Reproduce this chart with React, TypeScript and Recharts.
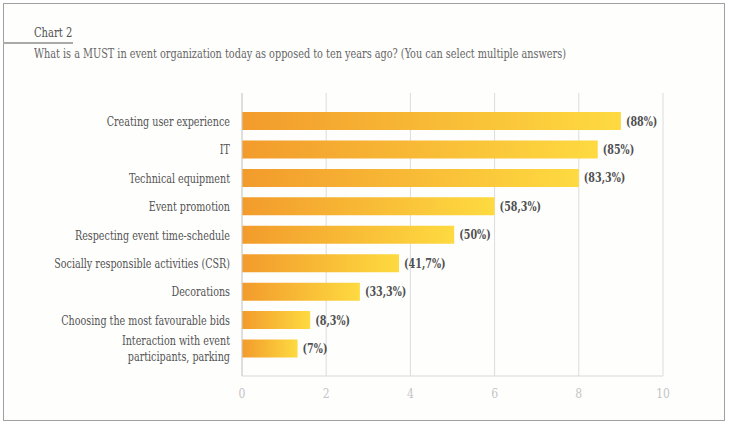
import { BarChart, Bar, XAxis, YAxis, CartesianGrid, LabelList } from 'recharts';

const categories = [
  'Creating user experience',
  'IT',
  'Technical equipment',
  'Event promotion',
  'Respecting event time-schedule',
  'Socially responsible activities (CSR)',
  'Decorations',
  'Choosing the most favourable bids',
  'Interaction with event\nparticipants, parking',
];
const values = [9.0, 8.45, 8.0, 6.0, 5.04, 3.73, 2.8, 1.62, 1.32];
const valueLabels = ['(88%)', '(85%)', '(83,3%)', '(58,3%)', '(50%)', '(41,7%)', '(33,3%)', '(8,3%)', '(7%)'];
const xTicks = [0, 2, 4, 6, 8, 10];

const data = categories.map((name, i) => ({ name, value: values[i], label: valueLabels[i] }));

const FONT = '"DejaVu Serif Condensed", "DejaVu Serif", serif';

function CategoryTick({ x, y, payload }: any) {
  const lines = String(payload.value).split('\n');
  const start = -((lines.length - 1) * 16) / 2;
  return (
    <g transform={`translate(${x - 4},${y}) scale(0.82,1)`}>
      {lines.map((line, i) => (
        <text key={i} x={0} y={start + i * 16} dy="0.35em" textAnchor="end" fill="#555" fontSize={13} fontFamily={FONT}>
          {line}
        </text>
      ))}
    </g>
  );
}

function ValueLabel({ x, y, width, height, value }: any) {
  return (
    <g transform={`translate(${x + width + 5},${y + height / 2}) scale(0.82,1)`}>
      <text x={0} y={0} dy="0.35em" fill="#505050" fontSize={13} fontWeight="bold" fontFamily={FONT}>
        {value}
      </text>
    </g>
  );
}

export default function App() {
  return (
    <div style={{ position: 'absolute', left: 0, top: 0, width: 730, height: 425, background: '#fff' }}>
      <div
        style={{
          position: 'absolute',
          left: 3,
          top: 3,
          width: 720,
          height: 416,
          border: '1.5px solid #a0a0a0',
          background: '#fefefd',
        }}
      />
      <div style={{ position: 'absolute', left: 3, top: 42, width: 70, height: 1.5, background: '#aaa' }} />
      <div
        style={{
          position: 'absolute',
          left: 34,
          top: 24,
          fontFamily: FONT,
          fontSize: 13.5,
          color: '#505050',
          whiteSpace: 'nowrap',
          transform: 'scaleX(0.82)',
          transformOrigin: 'left',
        }}
      >
        Chart 2
      </div>
      <div
        style={{
          position: 'absolute',
          left: 34,
          top: 46,
          fontFamily: FONT,
          fontSize: 13,
          color: '#666',
          whiteSpace: 'nowrap',
          transform: 'scaleX(0.83)',
          transformOrigin: 'left',
        }}
      >
        What is a MUST in event organization today as opposed to ten years ago? (You can select multiple answers)
      </div>
      <div style={{ position: 'absolute', left: 0, top: 0 }}>
        <BarChart
          width={730}
          height={425}
          data={data}
          layout="vertical"
          margin={{ top: 93, right: 67, left: 0, bottom: 19 }}
          barSize={18}
        >
          <defs>
            <linearGradient id="barGrad" x1="0" y1="0" x2="1" y2="0">
              <stop offset="0%" stopColor="#F29B2C" />
              <stop offset="100%" stopColor="#FEDA40" />
            </linearGradient>
          </defs>
          <CartesianGrid horizontal={false} stroke="#dcdcdc" />
          <XAxis
            type="number"
            domain={[0, 10]}
            ticks={xTicks}
            tickLine={false}
            tickSize={0}
            tickMargin={13}
            axisLine={{ stroke: '#d8d8d8' }}
            tick={{ fill: '#c4c4c4', fontSize: 12, fontFamily: FONT }}
            height={30}
          />
          <XAxis
            xAxisId="top"
            orientation="top"
            type="number"
            domain={[0, 10]}
            tick={false}
            tickLine={false}
            axisLine={{ stroke: '#dcdcdc' }}
            height={0}
          />
          <YAxis
            type="category"
            dataKey="name"
            width={242}
            tickLine={false}
            axisLine={{ stroke: '#d0d0d0' }}
            tick={<CategoryTick />}
            interval={0}
            padding={{ top: 14, bottom: 13 }}
          />
          <Bar dataKey="value" fill="url(#barGrad)" isAnimationActive={false}>
            <LabelList dataKey="label" content={<ValueLabel />} />
          </Bar>
        </BarChart>
      </div>
    </div>
  );
}
